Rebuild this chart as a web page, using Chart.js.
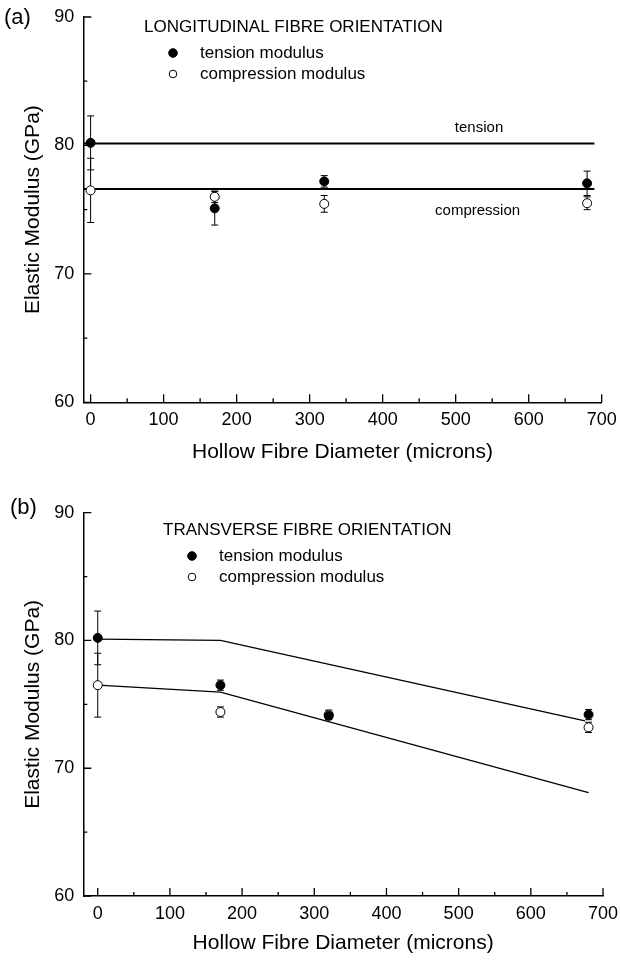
<!DOCTYPE html>
<html>
<head>
<meta charset="utf-8">
<script src="https://cdn.jsdelivr.net/npm/chart.js@4"></script>
<style>
  body { margin: 0; background: #fff; }
  canvas { display: block; }
</style>
</head>
<body>
<canvas id="chartA" width="620" height="480"></canvas>
<canvas id="chartB" width="620" height="480"></canvas>
<script>
const FONT = '"Liberation Sans", Arial, Helvetica, sans-serif'

// shared
const diameters = [0, 170, 320, 680]
const xTickValues = [0, 100, 200, 300, 400, 500, 600, 700]
const yTickValues = [60, 70, 80, 90]

// (a) longitudinal fibre orientation
const longTension = [80.2, 75.1, 77.2, 77.05]
const longTensionErr = [2.1, 1.3, 0.45, 0.95]
const longCompression = [76.5, 76.0, 75.45, 75.5]
const longCompressionErr = [2.5, 0.45, 0.65, 0.5]
const longTensionFitX = [-10, 690]
const longTensionFitY = [80.15, 80.15]
const longCompressionFitX = [-10, 690]
const longCompressionFitY = [76.6, 76.6]

// (b) transverse fibre orientation
const transTension = [80.2, 76.5, 74.1, 74.2]
const transTensionErr = [2.1, 0.4, 0.3, 0.4]
const transCompression = [76.5, 74.4, 74.2, 73.2]
const transCompressionErr = [2.5, 0.4, 0.35, 0.4]
const transTensionFitX = [0, 170, 675]
const transTensionFitY = [80.1, 80.0, 73.7]
const transCompressionFitX = [0, 170, 680]
const transCompressionFitY = [76.5, 75.95, 68.1]

const toPoints = (xs, ys) => xs.map((x, i) => ({ x: x, y: ys[i] }))
const midpoints = vals => vals.slice(1).map((v, i) => (vals[i] + v) / 2)

// vertical error bars with caps, drawn under the markers
const errorBars = {
    id: 'errorBars',
    beforeDatasetsDraw(chart) {
        const { ctx, scales: { y } } = chart
        ctx.save()
        ctx.strokeStyle = '#000'
        ctx.lineWidth = 1
        chart.data.datasets.forEach((ds, i) => {
            if (!ds.errors) return
            chart.getDatasetMeta(i).data.forEach((el, j) => {
                const v = ds.data[j].y
                const top = y.getPixelForValue(v + ds.errors[j])
                const bot = y.getPixelForValue(v - ds.errors[j])
                ctx.beginPath()
                ctx.moveTo(el.x, top); ctx.lineTo(el.x, bot)
                ctx.moveTo(el.x - 3.5, top); ctx.lineTo(el.x + 3.5, top)
                ctx.moveTo(el.x - 3.5, bot); ctx.lineTo(el.x + 3.5, bot)
                ctx.stroke()
            })
        })
        ctx.restore()
    }
}

// tick marks pointing into the plot, major and minor
const inwardTicks = {
    id: 'inwardTicks',
    afterDraw(chart) {
        const { ctx, scales: { x, y } } = chart
        ctx.save()
        ctx.strokeStyle = '#000'
        ctx.lineWidth = 1.3
        ctx.beginPath()
        const xTick = (v, len) => {
            const px = x.getPixelForValue(v)
            ctx.moveTo(px, y.bottom); ctx.lineTo(px, y.bottom - len)
        }
        const yTick = (v, len) => {
            const py = y.getPixelForValue(v)
            ctx.moveTo(x.left, py); ctx.lineTo(x.left + len, py)
        }
        xTickValues.forEach(v => xTick(v, 8))
        midpoints(xTickValues).forEach(v => xTick(v, 4))
        yTickValues.forEach(v => yTick(v, 8))
        midpoints(yTickValues).forEach(v => yTick(v, 4))
        ctx.stroke()
        ctx.restore()
    }
}

function makePanel(id, p) {
    const ctx = document.getElementById(id).getContext('2d')

    const decor = {
        id: 'decor',
        afterDraw(chart) {
            const c = chart.ctx
            const { x, y } = chart.scales
            c.save()
            c.fillStyle = '#000'
            c.textBaseline = 'middle'
            c.font = '22px ' + FONT
            c.fillText(p.label, p.labelX, p.labelY)

            // legend box inside the plot
            c.font = '17px ' + FONT
            c.fillText(p.legendTitle, p.legendX, p.legendY)
            const items = [
                { text: 'tension modulus', fill: '#000', r: 4.3 },
                { text: 'compression modulus', fill: '#fff', r: 3.8 }
            ]
            items.forEach((it, i) => {
                const yy = p.legendY + 26 + i * 21
                c.beginPath()
                c.arc(p.legendX + 29, yy, it.r, 0, Math.PI * 2)
                c.fillStyle = it.fill
                c.fill()
                c.lineWidth = 1
                c.strokeStyle = '#000'
                c.stroke()
                c.fillStyle = '#000'
                c.fillText(it.text, p.legendX + 56, yy)
            })

            // captions next to the fit lines
            c.font = '15px ' + FONT
            c.textAlign = 'center'
            ;(p.notes || []).forEach(n => {
                c.fillText(n.text, x.getPixelForValue(n.x), y.getPixelForValue(n.y))
            })
            c.restore()
        }
    }

    const fitLine = (xs, ys, w) => ({
        data: toPoints(xs, ys),
        showLine: true,
        borderColor: '#000',
        borderWidth: w,
        pointRadius: 0,
        order: 2
    })

    return new Chart(ctx, {
        type: 'scatter',
        data: {
            datasets: [
                fitLine(p.tensionFitX, p.tensionFitY, p.fitWidth),
                fitLine(p.compressionFitX, p.compressionFitY, p.fitWidth),
                {
                    data: toPoints(diameters, p.tension),
                    errors: p.tensionErr,
                    pointRadius: 4.5,
                    backgroundColor: '#000',
                    borderColor: '#000',
                    borderWidth: 1,
                    order: 0
                },
                {
                    data: toPoints(diameters, p.compression),
                    errors: p.compressionErr,
                    pointRadius: 4.5,
                    backgroundColor: '#fff',
                    borderColor: '#000',
                    borderWidth: 1,
                    order: 0
                }
            ]
        },
        options: {
            responsive: false,
            animation: false,
            layout: {
                padding: { left: 0, top: p.plotTop, right: 620 - p.plotRight, bottom: 0 }
            },
            plugins: {
                legend: { display: false },
                tooltip: { enabled: false }
            },
            scales: {
                x: {
                    type: 'linear',
                    min: p.xMin,
                    max: 700,
                    grid: { display: false, drawTicks: false },
                    border: { display: true, color: '#000', width: 1.5 },
                    ticks: {
                        color: '#000',
                        padding: 7,
                        maxRotation: 0,
                        autoSkip: false,
                        font: { family: FONT, size: 18 }
                    },
                    afterBuildTicks: s => { s.ticks = xTickValues.map(v => ({ value: v })) },
                    afterFit: s => {
                        s.height = 480 - p.plotBottom
                        s.paddingLeft = 0
                        s.paddingRight = 0
                    },
                    title: {
                        display: true,
                        text: 'Hollow Fibre Diameter (microns)',
                        color: '#000',
                        font: { family: FONT, size: 21 },
                        padding: { top: 0, bottom: p.xTitlePad }
                    }
                },
                y: {
                    min: 60,
                    max: 90,
                    grid: { display: false, drawTicks: false },
                    border: { display: true, color: '#000', width: 1.5 },
                    ticks: {
                        color: '#000',
                        padding: 9,
                        font: { family: FONT, size: 18 }
                    },
                    afterBuildTicks: s => { s.ticks = yTickValues.map(v => ({ value: v })) },
                    afterFit: s => {
                        s.width = 83.3
                        s.paddingTop = 0
                        s.paddingBottom = 0
                    },
                    title: {
                        display: true,
                        text: 'Elastic Modulus (GPa)',
                        color: '#000',
                        font: { family: FONT, size: 21 },
                        padding: { top: 21, bottom: 0 }
                    }
                }
            }
        },
        plugins: [errorBars, inwardTicks, decor]
    })
}

makePanel('chartA', {
    label: '(a)', labelX: 4, labelY: 18,
    legendTitle: 'LONGITUDINAL FIBRE ORIENTATION', legendX: 144, legendY: 27,
    plotTop: 17, plotBottom: 402.3, plotRight: 601.7, xMin: -10, xTitlePad: 15,
    tension: longTension, tensionErr: longTensionErr,
    compression: longCompression, compressionErr: longCompressionErr,
    tensionFitX: longTensionFitX, tensionFitY: longTensionFitY,
    compressionFitX: longCompressionFitX, compressionFitY: longCompressionFitY,
    fitWidth: 2,
    notes: [
        { text: 'tension', x: 532, y: 81.4 },
        { text: 'compression', x: 530, y: 74.9 }
    ]
})

makePanel('chartB', {
    label: '(b)', labelX: 10, labelY: 28,
    legendTitle: 'TRANSVERSE FIBRE ORIENTATION', legendX: 163, legendY: 50,
    plotTop: 32.7, plotBottom: 416, plotRight: 603, xMin: -20, xTitlePad: 4.5,
    tension: transTension, tensionErr: transTensionErr,
    compression: transCompression, compressionErr: transCompressionErr,
    tensionFitX: transTensionFitX, tensionFitY: transTensionFitY,
    compressionFitX: transCompressionFitX, compressionFitY: transCompressionFitY,
    fitWidth: 1.3
})
</script>
</body>
</html>
